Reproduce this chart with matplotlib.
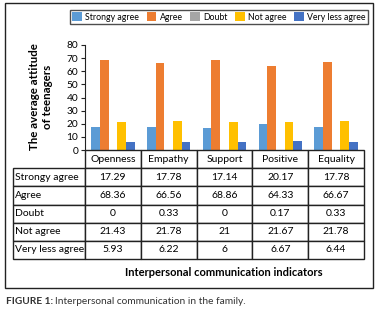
import matplotlib.pyplot as plt
import matplotlib.patches as patches
import numpy as np

plt.rcParams['font.family'] = ['Lato', 'DejaVu Sans']

categories = ['Openness', 'Empathy', 'Support', 'Positive', 'Equality']
series_names = ['Strongy agree', 'Agree', 'Doubt', 'Not agree', 'Very less agree']
strongly_agree = [17.29, 17.78, 17.14, 20.17, 17.78]
agree = [68.36, 66.56, 68.86, 64.33, 66.67]
doubt = [0, 0.33, 0, 0.17, 0.33]
not_agree = [21.43, 21.78, 21, 21.67, 21.78]
very_less_agree = [5.93, 6.22, 6, 6.67, 6.44]
colors = ['#5B9BD5', '#ED7D31', '#A5A5A5', '#FFC000', '#4472C4']

W, H = 379, 309
fig = plt.figure(figsize=(W / 100, H / 100), dpi=100)


def fx(px):
    return px / W


def fy(py):
    return 1 - py / H


# outer frame
fig.patches.append(patches.Rectangle((fx(5), fy(288)), fx(368), (288 - 3) / H,
                                     transform=fig.transFigure, fill=False,
                                     edgecolor='#222222', lw=1))

# bar chart
ax = fig.add_axes([fx(85), fy(150), fx(279), 105 / H])
all_series = [strongly_agree, agree, doubt, not_agree, very_less_agree]
x = np.arange(len(categories))
bw = 0.156
for i, (vals, name, c) in enumerate(zip(all_series, series_names, colors)):
    ax.bar(x + (i - 2) * bw, vals, bw, color=c, label=name)

ax.set_xlim(-0.5, len(categories) - 0.5)
ax.set_ylim(0, 80)
ax.set_yticks(range(0, 81, 10))
ax.set_xticks([])
for s in ['top', 'right', 'bottom']:
    ax.spines[s].set_visible(False)
ax.spines['left'].set_color('#222222')
ax.tick_params(axis='y', direction='out', length=3, width=0.8, labelsize=7.3, pad=2,
               color='#222222')

fig.text(fx(41), fy(97), 'The average attitude\nof teenagers', rotation=90,
         ha='center', va='center', fontsize=8.3, fontweight='bold', linespacing=1.2,
         multialignment='center')

# legend
handles, labels = ax.get_legend_handles_labels()
leg = fig.legend(handles, labels, loc='center', ncol=5, mode='expand',
                 bbox_to_anchor=(fx(70), fy(26), fx(298), 18 / H),
                 fontsize=6.3, frameon=True, fancybox=False, handlelength=1.1,
                 handleheight=1.1, handletextpad=0.4, columnspacing=0.8,
                 borderpad=0.25, borderaxespad=0)
leg.get_frame().set_edgecolor('#222222')
leg.get_frame().set_linewidth(1)

# data table
tax = fig.add_axes([fx(13), fy(259), fx(351), 109 / H])
tax.axis('off')
cell_text = [[''] + categories]
for name, vals in zip(series_names, all_series):
    cell_text.append([name] + [f'{v:g}' for v in vals])
col_w = [72] + [55.8] * 5
col_w = [w / sum(col_w) for w in col_w]
tbl = tax.table(cellText=cell_text, colWidths=col_w, bbox=[0, 0, 1, 1], cellLoc='center')
tbl.auto_set_font_size(False)
tbl.set_fontsize(7.5)
for (r, c), cell in tbl.get_celld().items():
    cell.set_edgecolor('#222222')
    cell.set_linewidth(1)
    if c == 0:
        cell.PAD = 0.03
        cell.get_text().set_ha('left')
        cell._loc = 'left'
    if r == 0 and c == 0:
        cell.visible_edges = ''

fig.text(fx(224), fy(273), 'Interpersonal communication indicators', ha='center',
         va='center', fontsize=8, fontweight='bold')

cap = fig.text(fx(6), fy(301), 'FIGURE 1:', ha='left', va='center', fontsize=7.3,
               fontweight='bold', color='#333333')
renderer = fig.canvas.get_renderer()
bb = cap.get_window_extent(renderer)
fig.text(bb.x1 / fig.bbox.width + fx(2), fy(301), 'Interpersonal communication in the family.',
         ha='left', va='center', fontsize=7.3, color='#333333')

fig.savefig('out.png', dpi=100)
